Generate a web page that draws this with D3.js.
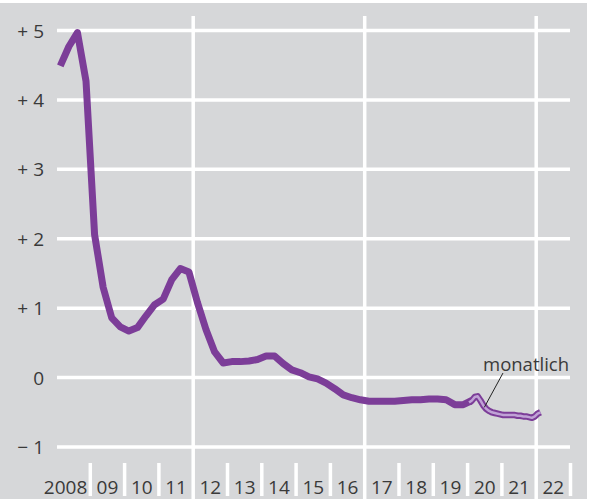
<!DOCTYPE html>
<html>
<head>
<meta charset="utf-8">
<script src="https://cdn.jsdelivr.net/npm/d3@7"></script>
<style>
  body { margin: 0; background: #fff; }
  svg text { font-family: 'Open Sans', 'Noto Sans', sans-serif; fill: #3a3a3a; }
</style>
</head>
<body>
<div id="chart"></div>
<script>
// quarterly values 2008 Q1 .. 2020 Q1
var quarterly = [
  4.49, 4.77, 4.97, 4.27,
  2.06, 1.30, 0.86, 0.73,
  0.67, 0.72, 0.89, 1.05,
  1.13, 1.41, 1.57, 1.52,
  1.08, 0.69, 0.37, 0.21,
  0.23, 0.23, 0.24, 0.26,
  0.31, 0.31, 0.20, 0.11,
  0.07, 0.01, -0.02, -0.08,
  -0.16, -0.25, -0.29, -0.32,
  -0.34, -0.34, -0.34, -0.34,
  -0.33, -0.32, -0.32, -0.31,
  -0.31, -0.32, -0.39, -0.39,
  -0.33
];
// monthly values Jan 2020 .. Feb 2022
var monthly = [
  -0.36, -0.33, -0.28, -0.27, -0.33, -0.40, -0.45, -0.48, -0.50, -0.51, -0.52, -0.53,
  -0.54, -0.54, -0.54, -0.54, -0.54, -0.55, -0.55, -0.56, -0.56, -0.57, -0.58, -0.56,
  -0.52, -0.50
];
var yTicks = [5, 4, 3, 2, 1, 0, -1];
var yTickLabels = ['+ 5', '+ 4', '+ 3', '+ 2', '+ 1', '0', '\u2212 1'];
var years = d3.range(2008, 2023);
var yearLabels = ['2008', '09', '10', '11', '12', '13', '14', '15', '16', '17', '18', '19', '20', '21', '22'];
var majorYears = [2012, 2017, 2022];

var width = 590, height = 499;
var svg = d3.select('#chart').append('svg')
    .attr('width', width)
    .attr('height', height);

svg.append('rect')
    .attr('x', 0).attr('y', 3)
    .attr('width', 587).attr('height', height - 3)
    .attr('fill', '#d6d7d9');

var x = d3.scaleLinear().domain([2008, 2023]).range([56, 570.5]);
var y = d3.scaleLinear().domain([-1, 5]).range([447, 30.5]);

// horizontal grid
svg.selectAll('.hgrid')
    .data(yTicks)
    .enter().append('line')
    .attr('x1', 57).attr('x2', 570)
    .attr('y1', d => y(d)).attr('y2', d => y(d))
    .attr('stroke', '#fff').attr('stroke-width', 3.5);

// full vertical lines
svg.selectAll('.vgrid')
    .data(majorYears)
    .enter().append('line')
    .attr('x1', d => x(d)).attr('x2', d => x(d))
    .attr('y1', 16).attr('y2', 499)
    .attr('stroke', '#fff').attr('stroke-width', 3.5);

// short year ticks at the bottom
svg.selectAll('.tick')
    .data(d3.range(2009, 2024).filter(d => majorYears.indexOf(d) < 0))
    .enter().append('line')
    .attr('x1', d => x(d)).attr('x2', d => x(d))
    .attr('y1', 463).attr('y2', 496)
    .attr('stroke', '#fff').attr('stroke-width', 3.5);

// y labels
svg.selectAll('.ylab')
    .data(yTicks)
    .enter().append('text')
    .attr('x', 44)
    .attr('y', d => y(d) + 7)
    .attr('text-anchor', 'end')
    .attr('font-size', 19)
    .text((d, i) => yTickLabels[i]);

// x labels
svg.selectAll('.xlab')
    .data(years)
    .enter().append('text')
    .attr('x', (d, i) => i === 0 ? x(d + 1) - 3 : x(d + 0.5))
    .attr('y', 494)
    .attr('text-anchor', (d, i) => i === 0 ? 'end' : 'middle')
    .attr('font-size', 19)
    .text((d, i) => yearLabels[i]);

var qLine = d3.line()
    .x((d, i) => x(2008 + (i + 0.5) / 4))
    .y(d => y(d));
var mLine = d3.line()
    .x((d, i) => x(2020 + (i + 0.5) / 12))
    .y(d => y(d));

svg.append('path')
    .attr('d', qLine(quarterly))
    .attr('fill', 'none')
    .attr('stroke', '#7c3d98')
    .attr('stroke-width', 7)
    .attr('stroke-linejoin', 'round');

svg.append('path')
    .attr('d', mLine(monthly))
    .attr('fill', 'none')
    .attr('stroke', '#7c3d98')
    .attr('stroke-width', 6.5)
    .attr('stroke-linejoin', 'round');

svg.append('path')
    .attr('d', mLine(monthly))
    .attr('fill', 'none')
    .attr('stroke', '#c0a2d6')
    .attr('stroke-width', 2.5)
    .attr('stroke-linejoin', 'round');

// annotation
svg.append('line')
    .attr('x1', 503).attr('y1', 373)
    .attr('x2', x(2020 + 5.5 / 12) + 1).attr('y2', y(monthly[5]) + 2)
    .attr('stroke', '#222').attr('stroke-width', 1);

svg.append('text')
    .attr('x', 483)
    .attr('y', 371)
    .attr('font-size', 18.5)
    .text('monatlich');
</script>
</body>
</html>
